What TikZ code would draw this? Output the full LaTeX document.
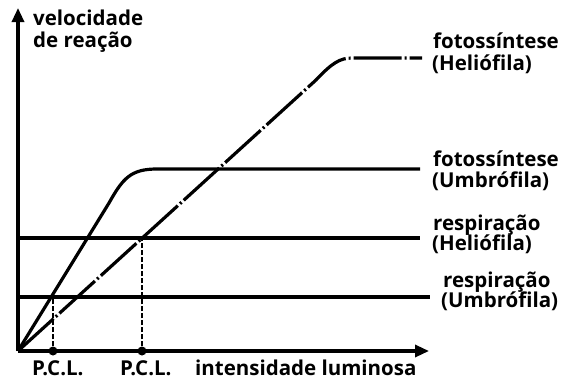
\documentclass[tikz,border=0pt]{standalone}
\usepackage{fontspec}
\setmainfont{Open Sans}
\usetikzlibrary{arrows.meta}
\begin{document}
\begin{tikzpicture}[x=1pt,y=-1pt,
  axis/.style={line width=3.2pt,-{Triangle[length=14pt,width=12pt]}},
  curve/.style={line width=3.2pt},
  dashcurve/.style={line width=3.2pt,dash pattern=on 48pt off 3pt on 2pt off 3pt},
  guide/.style={line width=1.3pt,dash pattern=on 5pt off 2pt},
  lbl/.style={font=\bfseries\fontsize{20.5}{20.5}\selectfont,anchor=base west,inner sep=0pt},
  pt/.style={circle,fill=black,inner sep=0pt,minimum size=9pt}]
\useasboundingbox (0,0) rectangle (565,381);
\coordinate (O) at (18,351);
\coordinate (Ytop) at (18,8);
\coordinate (Xend) at (429,351);
\draw[axis] (O) -- (Ytop);
\draw[axis] (O) -- (Xend);
% respiration lines
\coordinate (rh0) at (18,238); \coordinate (rh1) at (420,238);
\coordinate (ru0) at (18,297); \coordinate (ru1) at (430,297);
\draw[curve] (rh0) -- (rh1);
\draw[curve] (ru0) -- (ru1);
% photosynthesis umbrofila
\coordinate (fu1) at (109,203);
\coordinate (fu2) at (157,169);
\coordinate (fu3) at (420,169);
\draw[curve] (O) -- (fu1) .. controls (123,178) and (131,169) .. (fu2) -- (fu3);
% photosynthesis heliofila
\coordinate (fh1) at (316,80);
\coordinate (fh2) at (352,58);
\coordinate (fh3) at (422,58);
\draw[dashcurve] (O) -- (fh1) .. controls (332,63) and (340,58) .. (fh2) -- (fh3);
% PCL points
\node[pt] (p1) at (53,351) {};
\node[pt] (p2) at (142,351) {};
\coordinate (c1) at (53,297);
\coordinate (c2) at (142,238);
\draw[guide] (p1) -- (c1);
\draw[guide] (p2) -- (c2);
% labels
\node[lbl] (yl1) at (33,25) {velocidade};
\node[lbl] (yl2) at (33,47) {de reação};
\node[lbl] (l1a) at (433,48) {fotossíntese};
\node[lbl] (l1b) at (432,70) {(Heliófila)};
\node[lbl] (l2a) at (433,166) {fotossíntese};
\node[lbl] (l2b) at (432,187) {(Umbrófila)};
\node[lbl] (l3a) at (433,230) {respiração};
\node[lbl] (l3b) at (432,250) {(Heliófila)};
\node[lbl] (l4a) at (443,287) {respiração};
\node[lbl] (l4b) at (441,307) {(Umbrófila)};
\node[lbl] (pcl1) at (32,375) {P.C.L.};
\node[lbl] (pcl2) at (120,375) {P.C.L.};
\node[lbl] (xl) at (195,375) {intensidade luminosa};
\end{tikzpicture}
\end{document}
